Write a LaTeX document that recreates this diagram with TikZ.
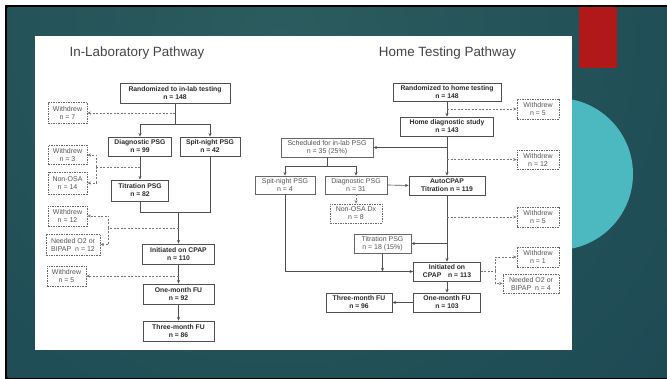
\documentclass[tikz,border=0pt]{standalone}
\usepackage{fontspec}
\setmainfont{Liberation Sans}
\usetikzlibrary{arrows.meta}
\definecolor{bgbase}{HTML}{153F4E}
\definecolor{bglight}{HTML}{2B5C5E}
\definecolor{circc}{HTML}{4CB8C0}
\definecolor{redc}{HTML}{B0181A}
\definecolor{boxc}{HTML}{505050}
\definecolor{boxg}{HTML}{666666}
\definecolor{txtA}{HTML}{2A2A2A}
\definecolor{txtB}{HTML}{555555}
\definecolor{linec}{HTML}{505050}
\definecolor{dashc}{HTML}{777777}
\definecolor{titc}{HTML}{444444}
\begin{document}
\begin{tikzpicture}[x=1pt,y=-1pt,
  sz/.style 2 args={minimum width=#1, minimum height=#2},
  mainbox/.style={draw=boxc, line width=0.75pt, fill=white, inner sep=0pt, align=center, text=txtA, font=\bfseries\fontsize{6.8}{8}\selectfont},
  grbox/.style={draw=boxg, line width=0.7pt, fill=white, inner sep=0pt, align=center, text=txtB, font=\fontsize{7}{8}\selectfont},
  dbox/.style={grbox, dash pattern=on 1.5pt off 1pt},
  ln/.style={draw=linec, line width=0.65pt},
  arr/.style={ln, -{Stealth[length=3.6pt,width=3pt]}},
  dln/.style={draw=dashc, line width=0.65pt, dash pattern=on 2pt off 1.5pt},
  darr/.style={dln, -{Stealth[length=3.6pt,width=3pt]}},
  title/.style={anchor=base, text=titc, font=\fontsize{13.4}{15}\selectfont}
]
\useasboundingbox (0,0) rectangle (667,379);
% background frame
\fill[white] (0,0) rectangle (667,379);
\fill[black] (5,5) rectangle (667,379);
\fill[bgbase] (7.5,7.5) rectangle (667,377.5);
\begin{scope}
  \clip (7.5,7.5) rectangle (667,377.5);
  \shade[inner color=bglight, outer color=bgbase] (280,40) circle (820);
\end{scope}
\fill[circc] (557,174) circle (76);
\fill[redc] (579,7.5) rectangle (617,68);
\fill[white] (35,36) rectangle (572,350);

% titles
\node[title] (T1) at (137,57) {In-Laboratory Pathway};
\node[title] (T2) at (447.5,57) {Home Testing Pathway};

% ---------- left pathway ----------
\node[mainbox, sz={110}{20}] (L1) at (175,93) {Randomized to in-lab testing\\ n = 148};
\node[dbox, sz={39}{21}] (LW7) at (67.5,113) {Withdrew\\ n = 7};
\node[mainbox, sz={63}{19}] (LDiag) at (140,146.5) {Diagnostic PSG\\ n = 99};
\node[mainbox, sz={60}{19}] (LSplit) at (210,146.5) {Spit-night PSG\\ n = 42};
\node[dbox, sz={39}{19}] (LW3) at (67.5,155) {Withdrew\\ n = 3};
\node[dbox, sz={39}{22}] (LNon) at (67.5,183) {Non-OSA\\ n = 14};
\node[mainbox, sz={57}{21}] (LTit) at (140,190.5) {Titration PSG\\ n = 82};
\node[dbox, sz={39}{20}] (LW12) at (67.5,216) {Withdrew\\ n = 12};
\node[dbox, sz={54}{21}] (LNeed) at (73,244.5) {Needed O2 or\\ BIPAP\ \ n = 12};
\node[mainbox, sz={72}{20}] (LInit) at (178.5,254) {Initiated on CPAP\\ n = 110};
\node[dbox, sz={39}{20}] (LW5) at (66.5,276) {Withdrew\\ n = 5};
\node[mainbox, sz={71}{20}] (LOne) at (178.5,294) {One-month FU\\ n = 92};
\node[mainbox, sz={71}{20}] (LThree) at (178.5,331) {Three-month FU\\ n = 86};

\coordinate (lj1) at (175,124);
\coordinate (lj1a) at (140,124);
\coordinate (lj1b) at (210,124);
\coordinate (lw7) at (175,113);
\draw[ln] (L1.south) -- (lj1);
\draw[ln] (lj1a) -- (lj1b);
\draw[arr] (lj1a) -- (LDiag.north);
\draw[arr] (lj1b) -- (LSplit.north);
\draw[darr] (lw7) -- (LW7.east);
\draw[arr] (LDiag.south) -- (LTit.north);
\coordinate (lj2) at (140,167);
\coordinate (lj2b) at (96,167);
\draw[dln] (lj2) -- (lj2b);
\draw[darr] (lj2b) |- (LW3.east);
\draw[darr] (lj2b) |- (LNon.east);
\coordinate (lj3) at (178.5,212);
\coordinate (lj3r) at (210,212);
\draw[ln] (LTit.south) |- (lj3r) -- (LSplit.south);
\draw[arr] (lj3) -- (LInit.north);
\coordinate (lj4) at (178.5,228);
\coordinate (lj4b) at (108.5,228);
\draw[dln] (lj4) -- (lj4b);
\draw[darr] (lj4b) |- (LW12.east);
\draw[darr] (lj4b) |- (LNeed.east);
\draw[arr] (LInit.south) -- (LOne.north);
\coordinate (lj5) at (178.5,276);
\draw[darr] (lj5) -- (LW5.east);
\draw[arr] (LOne.south) -- (LThree.north);

% ---------- right pathway ----------
\node[mainbox, sz={108}{18}] (R1) at (447,92) {Randomized to home testing\\ n = 148};
\node[dbox, sz={42}{20}] (RW5a) at (538,109) {Withdrew\\ n = 5};
\node[mainbox, sz={93}{19}] (RHome) at (447,126.5) {Home diagnostic study\\ n = 143};
\node[grbox, sz={92}{19}] (RSched) at (327,147.5) {Scheduled for in-lab PSG\\ n = 35 (25\%)};
\node[dbox, sz={42}{19}] (RW12) at (538,159.5) {Withdrew\\ n = 12};
\node[grbox, sz={60}{18}] (RSplit) at (285,185) {Spit-night PSG\\ n = 4};
\node[grbox, sz={62}{18}] (RDiag) at (356,185) {Diagnostic PSG\\ n = 31};
\node[mainbox, sz={76}{19}] (RAuto) at (447,185.5) {AutoCPAP\\ Titration n = 119};
\node[dbox, sz={52}{19}] (RNon) at (356,213.5) {Non-OSA Dx\\ n = 8};
\node[dbox, sz={42}{20}] (RW5b) at (538,217) {Withdrew\\ n = 5};
\node[grbox, sz={57}{19}] (RTit) at (382.5,243.5) {Titration PSG\\ n = 18 (15\%)};
\node[dbox, sz={42}{20}] (RW1) at (538,257) {Withdrew\\ n = 1};
\node[mainbox, sz={67}{19}] (RInit) at (447,271.5) {Initiated on\\ CPAP\quad n = 113};
\node[dbox, sz={56}{19}] (RNeed) at (531,283.5) {Needed O2 or\\ BIPAP\ \ n = 4};
\node[mainbox, sz={67}{19}] (ROne) at (447,302.5) {One-month FU\\ n = 103};
\node[mainbox, sz={66}{19}] (RThree) at (359,302.5) {Three-month FU\\ n = 96};

\draw[arr] (R1.south) -- (RHome.north);
\coordinate (rw5a) at (447,109);
\draw[darr] (rw5a) -- (RW5a.west);
\draw[arr] (RHome.south) -- (RAuto.north);
\coordinate (rsch) at (447,147.5);
\draw[arr] (rsch) -- (RSched.east);
\coordinate (rw12) at (447,159.5);
\draw[darr] (rw12) -- (RW12.west);
\coordinate (rj1) at (327,166);
\coordinate (rj1a) at (285,166);
\coordinate (rj1b) at (356,166);
\draw[ln] (RSched.south) -- (rj1);
\draw[ln] (rj1a) -- (rj1b);
\draw[arr] (rj1a) -- (RSplit.north);
\draw[arr] (rj1b) -- (RDiag.north);
\draw[arr] (RDiag.east) -- (RAuto.west);
\draw[darr] (RDiag.south) -- (RNon.north);
\draw[arr] (RAuto.south) -- (RInit.north);
\coordinate (rw5b) at (447,217);
\draw[darr] (rw5b) -- (RW5b.west);
\coordinate (rtit) at (447,243.5);
\draw[arr] (rtit) -- (RTit.east);
\draw[arr] (RSplit.south) |- (RInit.west);
\coordinate (rtj) at (382.5,271.5);
\draw[arr] (RTit.south) -- (rtj);
\coordinate (rj2) at (495,271.5);
\draw[dln] (RInit.east) -- (rj2);
\draw[darr] (rj2) |- (RW1.west);
\draw[darr] (rj2) |- (RNeed.west);
\draw[arr] (RInit.south) -- (ROne.north);
\draw[arr] (ROne.west) -- (RThree.east);
\end{tikzpicture}
\end{document}
